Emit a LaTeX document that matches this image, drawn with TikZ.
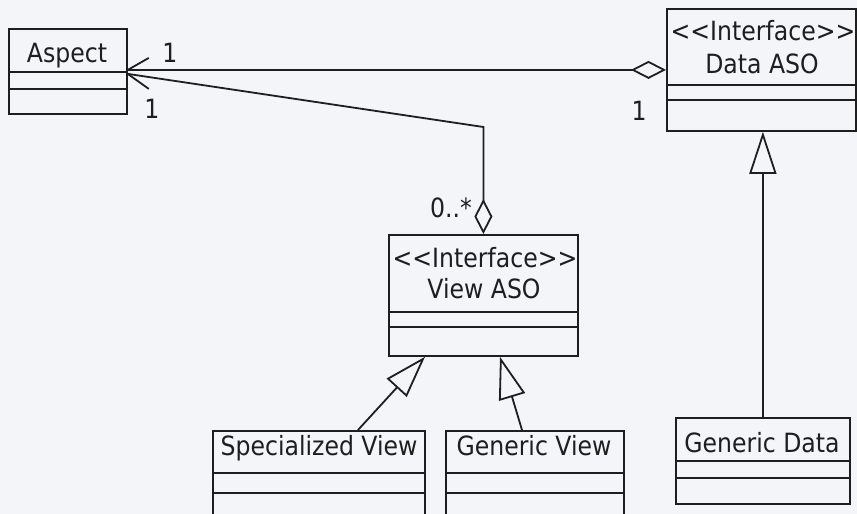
\documentclass[tikz,border=0pt]{standalone}
\usepackage{fontspec}
\setmainfont{DejaVu Sans}[FakeStretch=0.89]
\usetikzlibrary{arrows.meta,calc}

\definecolor{paper}{HTML}{F3F5F8}
\definecolor{ink}{HTML}{1E1E1E}

\newcommand{\stereo}[1]{<{}<#1>{}>}

\tikzset{
  umlline/.style={draw=ink, line width=1.8pt},
  classbox/.style={umlline, rectangle, anchor=north west, inner sep=0pt, fill=paper},
  divider/.style={umlline},
  label/.style={text=ink, font=\fontsize{26.5}{33}\selectfont, inner sep=0pt, anchor=base},
  aggregation/.style={umlline, -{Diamond[length=35pt, width=18pt, fill=paper, line join=miter]}},
  generalization/.style={umlline, -{Triangle[length=42pt, width=27pt, fill=paper, line join=miter]}},
}

\begin{document}
\begin{tikzpicture}[x=1pt, y=-1pt]
  \useasboundingbox (0,0) rectangle (857,514);
  \fill[paper] (0,0) rectangle (857,514);
  \clip (0,0) rectangle (857,514);

  % class boxes
  \node[classbox, minimum width=118pt, minimum height=85pt]  (aspect) at (8,28)    {};
  \node[classbox, minimum width=189pt, minimum height=122pt] (data)   at (666,8)   {};
  \node[classbox, minimum width=189pt, minimum height=121pt] (view)   at (388,234) {};
  \node[classbox, minimum width=212pt, minimum height=110pt] (spec)   at (212,430) {};
  \node[classbox, minimum width=178pt, minimum height=110pt] (gview)  at (445,430) {};
  \node[classbox, minimum width=174pt, minimum height=86pt]  (gdata)  at (675,417) {};

  % compartment dividers
  \foreach \b/\da/\db in {aspect/44/61, data/77/92, view/78/93, spec/43/63, gview/43/63, gdata/44/61} {
    \draw[divider] ($(\b.north west)+(0,\da)$) -- ($(\b.north east)+(0,\da)$);
    \draw[divider] ($(\b.north west)+(0,\db)$) -- ($(\b.north east)+(0,\db)$);
  }

  % class names
  \node[label] (aspect-name) at (67,62)   {Aspect};
  \node[label] (data-st)     at (763,40)  {\stereo{Interface}};
  \node[label] (data-name)   at (762,73)  {Data ASO};
  \node[label] (view-st)     at (485,267) {\stereo{Interface}};
  \node[label] (view-name)   at (484,298) {View ASO};
  \node[label] (spec-name)   at (319,455) {Specialized View};
  \node[label] (gview-name)  at (534,455) {Generic View};
  \node[label] (gdata-name)  at (762,452) {Generic Data};

  % association Aspect -- Data ASO
  \coordinate (a1) at (data.west -| aspect.east);
  \draw[aggregation] (a1) -- (data.west);
  \draw[umlline] (a1) -- ++(21,-12);

  % association Aspect -- View ASO
  \coordinate (a2) at ($(aspect.east)+(0,2.5)$);
  \coordinate (bend) at (view.north |- 0,127);
  \draw[aggregation] (a2) -- (bend) -- (view.north);
  \draw[umlline] (a2) -- ++(21,15);

  % multiplicities
  \node[label] (m1) at (170,62)  {1};
  \node[label] (m2) at (152,118) {1};
  \node[label] (m3) at (639,120) {1};
  \node[label] (m4) at (451,217) {0..*};

  % generalizations
  \coordinate (v1) at (425,0 |- view.south);
  \coordinate (v2) at (500,0 |- view.south);
  \coordinate (s1) at (358,0 |- spec.north);
  \coordinate (g1) at (522,0 |- gview.north);
  \draw[generalization] (s1) -- (v1);
  \draw[generalization] (g1) -- (v2);
  \draw[generalization] (gdata.north) -- (gdata.north |- data.south);
\end{tikzpicture}
\end{document}
